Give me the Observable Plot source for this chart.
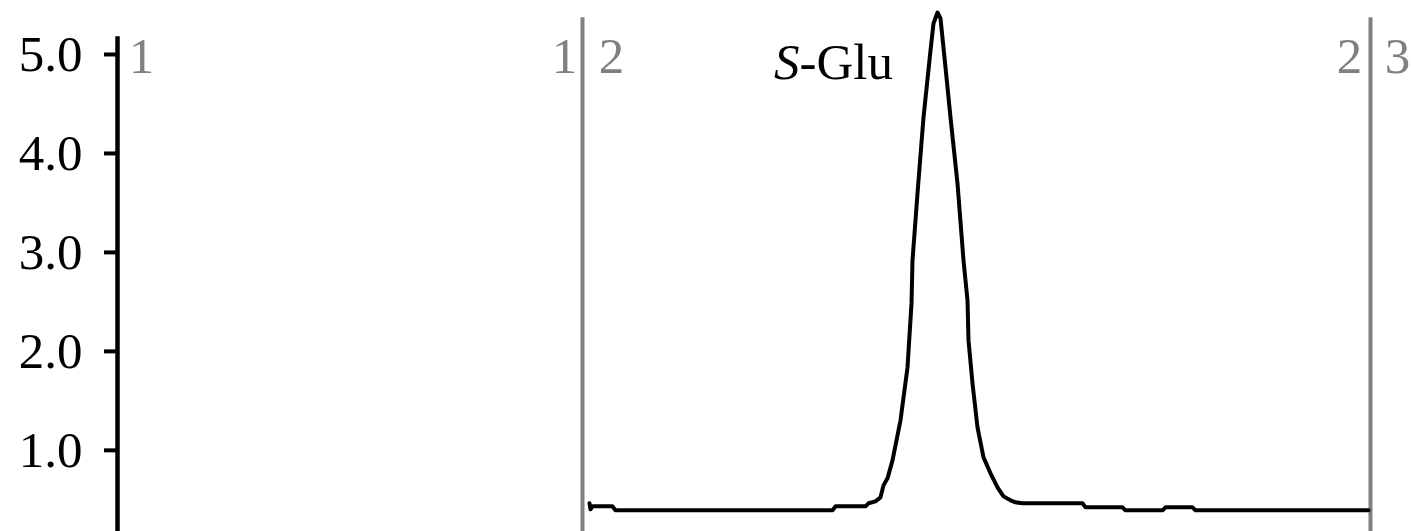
<!DOCTYPE html>
<html>
<head>
<meta charset="utf-8">
<script src="https://cdn.jsdelivr.net/npm/d3@7"></script>
<script src="https://cdn.jsdelivr.net/npm/@observablehq/plot@0.6"></script>
<style>
  html, body { margin: 0; padding: 0; background: #fff; }
  #chart svg { display: block; font-family: "Liberation Serif", "Times New Roman", serif; }
</style>
</head>
<body>
<div id="chart"></div>
<script>
// Trace: time (arbitrary units) and signal
const times = [4.72, 4.73, 4.75, 4.95, 4.98, 7.15, 7.18, 7.48, 7.51, 7.58, 7.63, 7.66, 7.70, 7.75, 7.83, 7.90, 7.94, 7.95, 8.00, 8.06, 8.13, 8.16, 8.20, 8.23, 8.28, 8.33, 8.40, 8.46, 8.50, 8.51, 8.55, 8.60, 8.66, 8.73, 8.80, 8.86, 8.93, 8.98, 9.05, 9.65, 9.68, 10.05, 10.08, 10.45, 10.48, 10.75, 10.78, 12.51];
const signal = [0.465, 0.404, 0.434, 0.434, 0.394, 0.394, 0.434, 0.434, 0.465, 0.485, 0.525, 0.646, 0.717, 0.899, 1.303, 1.838, 2.485, 2.919, 3.596, 4.364, 5.040, 5.313, 5.424, 5.364, 4.869, 4.364, 3.697, 2.919, 2.515, 2.111, 1.677, 1.232, 0.929, 0.768, 0.626, 0.535, 0.495, 0.475, 0.465, 0.465, 0.424, 0.424, 0.394, 0.394, 0.424, 0.424, 0.394, 0.394];

const yTicks = [1, 2, 3, 4, 5];
const segmentBounds = [4.65, 12.53];
const segmentLabels = ["1", "1", "2", "2", "3"];
const segmentLabelX = [0.24, 4.47, 4.94, 12.32, 12.80];
const peakLabelX = 6.82;
const peakLabelY = 4.92;

const trace = times.map((t, i) => ({t, v: signal[i]}));
const segLabels = segmentLabels.map((s, i) => ({x: segmentLabelX[i], s}));

const serif = "Liberation Serif, Times New Roman, serif";
const gray = "#808080";

const chart = Plot.plot({
  width: 1411,
  height: 531,
  marginLeft: 117,
  marginRight: 0,
  marginTop: 4.5,
  marginBottom: 0,
  style: {fontFamily: serif, background: "#fff", color: "#000"},
  x: {domain: [0, 12.94], axis: null},
  y: {domain: [0.18, 5.5]},
  marks: [
    Plot.ruleX(segmentBounds, {y1: 0.18, y2: 5.37, stroke: gray, strokeWidth: 4}),
    Plot.ruleX([0], {y1: 0.18, y2: 5.18, stroke: "#000", strokeWidth: 4.5}),
    Plot.axisY({
      ticks: yTicks,
      tickFormat: d3.format(".1f"),
      tickSize: 13,
      tickPadding: 22,
      fontSize: 51,
      strokeWidth: 4,
      stroke: "#000",
      fill: "#000",
      label: null
    }),
    Plot.line(trace, {x: "t", y: "v", stroke: "#000", strokeWidth: 4, strokeLinejoin: "round"}),
    Plot.text(segLabels, {x: "x", y: 4.98, text: "s", fill: gray, fontSize: 51, textAnchor: "middle"}),
    Plot.text(["S"], {x: peakLabelX, y: peakLabelY, text: d => d, fill: "#000", fontSize: 51, fontStyle: "italic", textAnchor: "end"}),
    Plot.text(["-Glu"], {x: peakLabelX, y: peakLabelY, text: d => d, fill: "#000", fontSize: 51, textAnchor: "start"})
  ]
});
document.getElementById("chart").appendChild(chart);
</script>
</body>
</html>
